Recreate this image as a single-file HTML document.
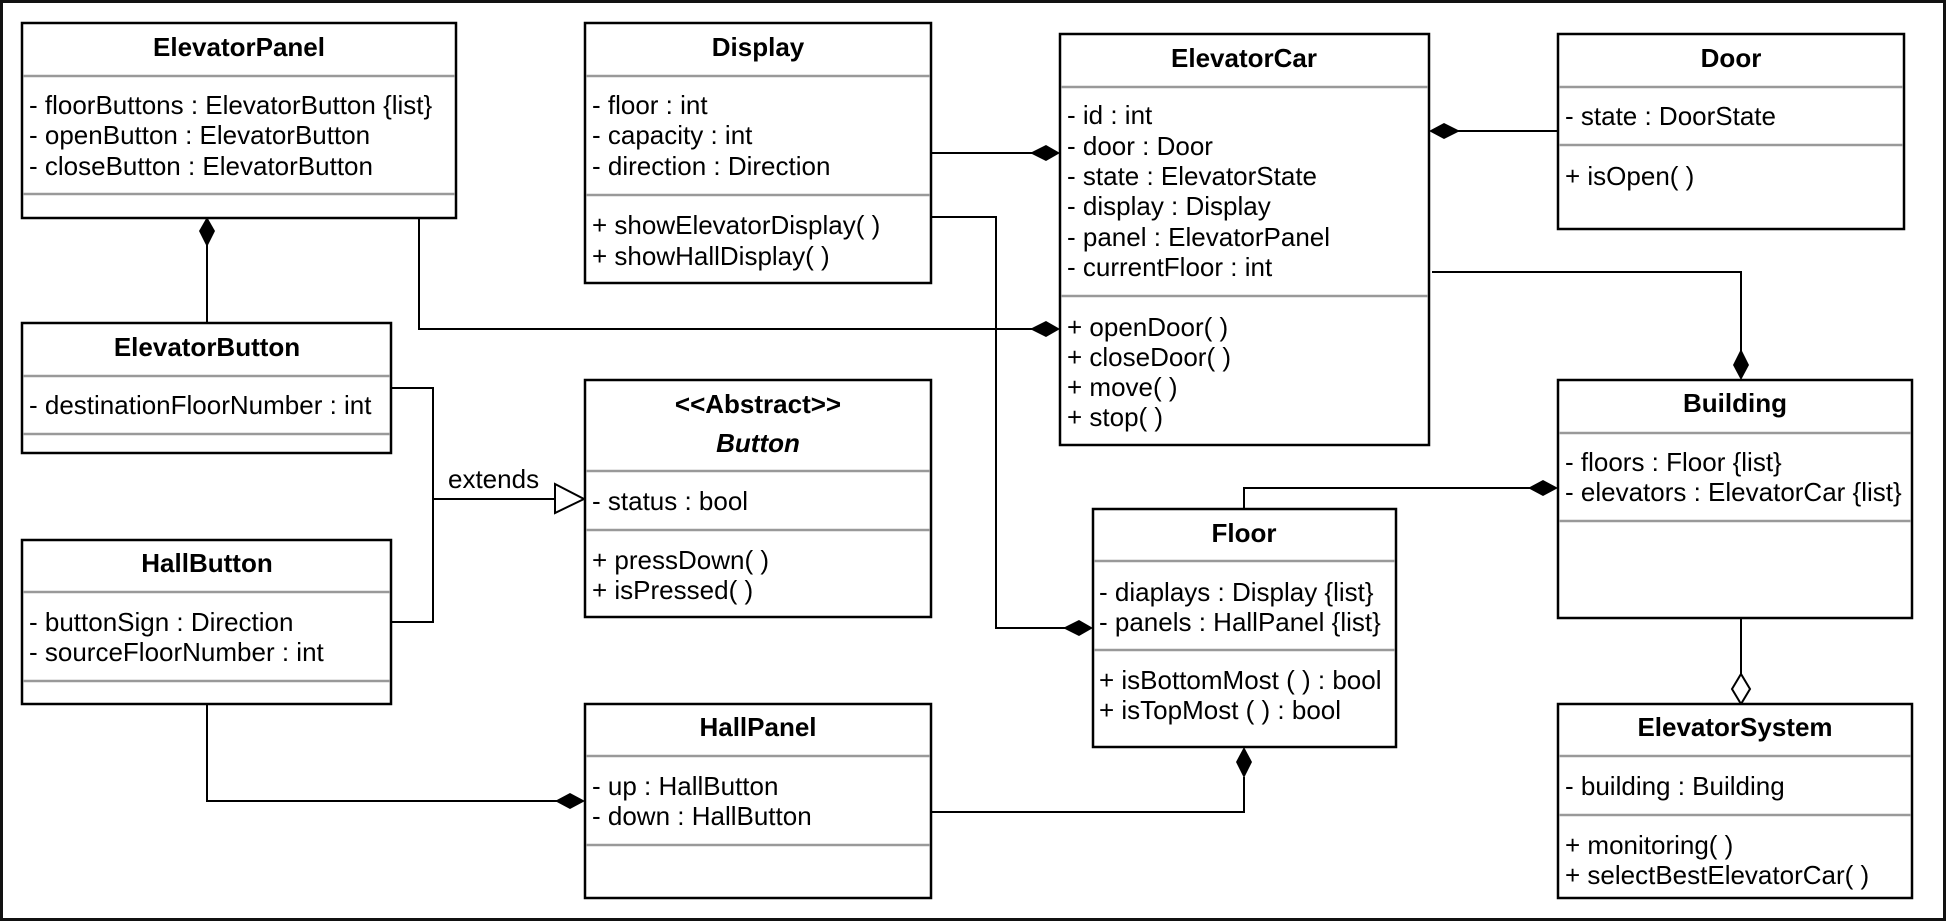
<!DOCTYPE html>
<html><head><meta charset="utf-8"><style>
html,body{margin:0;padding:0;background:#fff;}
svg{display:block;}
text{font-family:"Liberation Sans",Arial,sans-serif;font-size:26px;fill:#000;}
.t{font-weight:bold;text-anchor:middle;font-size:26px;}
.box{fill:#fff;stroke:#000;stroke-width:2.5;}
.div{stroke:#999;stroke-width:2.5;}
.ln{fill:none;stroke:#000;stroke-width:2;}
</style></head><body>
<svg width="1946" height="921" viewBox="0 0 1946 921" xmlns="http://www.w3.org/2000/svg">
<rect x="1.5" y="1.5" width="1943" height="918" fill="#fff" stroke="#111" stroke-width="3"/>

<!-- connectors -->
<polyline class="ln" points="207,323 207,245"/>
<polygon points="207,217 215,231 207,247 199,231" fill="#000"/>
<polyline class="ln" points="419,218 419,329 1032,329"/>
<polygon points="1060,329 1046,321 1030,329 1046,337" fill="#000"/>
<polyline class="ln" points="931,153 1032,153"/>
<polygon points="1060,153 1046,145 1030,153 1046,161" fill="#000"/>
<polyline class="ln" points="931,217 996,217 996,628 1065,628"/>
<polygon points="1093,628 1079,620 1063,628 1079,636" fill="#000"/>
<polyline class="ln" points="1558,131 1458,131"/>
<polygon points="1429,131 1444,123 1460,131 1444,139" fill="#000"/>
<polyline class="ln" points="1432,272 1741,272 1741,352"/>
<polygon points="1741,380 1733,365 1741,349 1749,365" fill="#000"/>
<polyline class="ln" points="1244,509 1244,488 1530,488"/>
<polygon points="1558,488 1543,480 1528,488 1543,496" fill="#000"/>
<polyline class="ln" points="1741,618 1741,674"/>
<polygon points="1741,704 1732,689 1741,674 1750,689" fill="#fff" stroke="#000" stroke-width="2"/>
<polyline class="ln" points="931,812 1244,812 1244,777"/>
<polygon points="1244,747 1252,762 1244,778 1236,762" fill="#000"/>
<polyline class="ln" points="207,704 207,801 557,801"/>
<polygon points="585,801 570,793 555,801 570,809" fill="#000"/>
<polyline class="ln" points="391,388 433,388 433,622 391,622"/>
<polyline class="ln" points="433,499 555,499"/>
<polygon points="555,484 584,499 555,513" fill="#fff" stroke="#000" stroke-width="2"/>
<text x="448" y="488" font-size="26">extends</text>

<!-- ElevatorPanel -->
<rect class="box" x="22" y="23" width="434" height="195"/>
<line class="div" x1="23" y1="76" x2="455" y2="76"/><line class="div" x1="23" y1="194" x2="455" y2="194"/>
<text class="t" x="239" y="56">ElevatorPanel</text>
<text x="29" y="114">- floorButtons : ElevatorButton {list}</text>
<text x="29" y="144">- openButton : ElevatorButton</text>
<text x="29" y="175">- closeButton : ElevatorButton</text>

<!-- ElevatorButton -->
<rect class="box" x="22" y="323" width="369" height="130"/>
<line class="div" x1="23" y1="376" x2="390" y2="376"/><line class="div" x1="23" y1="434" x2="390" y2="434"/>
<text class="t" x="207" y="356">ElevatorButton</text>
<text x="29" y="414">- destinationFloorNumber : int</text>

<!-- HallButton -->
<rect class="box" x="22" y="540" width="369" height="164"/>
<line class="div" x1="23" y1="592" x2="390" y2="592"/><line class="div" x1="23" y1="681" x2="390" y2="681"/>
<text class="t" x="207" y="572">HallButton</text>
<text x="29" y="631">- buttonSign : Direction</text>
<text x="29" y="661">- sourceFloorNumber : int</text>

<!-- Display -->
<rect class="box" x="585" y="23" width="346" height="260"/>
<line class="div" x1="586" y1="76" x2="930" y2="76"/><line class="div" x1="586" y1="195" x2="930" y2="195"/>
<text class="t" x="758" y="56">Display</text>
<text x="592" y="114">- floor : int</text>
<text x="592" y="144">- capacity : int</text>
<text x="592" y="175">- direction : Direction</text>
<text x="592" y="234">+ showElevatorDisplay( )</text>
<text x="592" y="265">+ showHallDisplay( )</text>

<!-- Button -->
<rect class="box" x="585" y="380" width="346" height="237"/>
<line class="div" x1="586" y1="471" x2="930" y2="471"/><line class="div" x1="586" y1="530" x2="930" y2="530"/>
<text class="t" x="758" y="413">&lt;&lt;Abstract&gt;&gt;</text>
<text class="t" x="758" y="452" font-style="italic">Button</text>
<text x="592" y="510">- status : bool</text>
<text x="592" y="569">+ pressDown( )</text>
<text x="592" y="599">+ isPressed( )</text>

<!-- HallPanel -->
<rect class="box" x="585" y="704" width="346" height="194"/>
<line class="div" x1="586" y1="756" x2="930" y2="756"/><line class="div" x1="586" y1="845" x2="930" y2="845"/>
<text class="t" x="758" y="736">HallPanel</text>
<text x="592" y="795">- up : HallButton</text>
<text x="592" y="825">- down : HallButton</text>

<!-- ElevatorCar -->
<rect class="box" x="1060" y="34" width="369" height="411"/>
<line class="div" x1="1061" y1="87" x2="1428" y2="87"/><line class="div" x1="1061" y1="296" x2="1428" y2="296"/>
<text class="t" x="1244" y="67">ElevatorCar</text>
<text x="1067" y="124">- id : int</text>
<text x="1067" y="155">- door : Door</text>
<text x="1067" y="185">- state : ElevatorState</text>
<text x="1067" y="215">- display : Display</text>
<text x="1067" y="246">- panel : ElevatorPanel</text>
<text x="1067" y="276">- currentFloor : int</text>
<text x="1067" y="336">+ openDoor( )</text>
<text x="1067" y="366">+ closeDoor( )</text>
<text x="1067" y="396">+ move( )</text>
<text x="1067" y="426">+ stop( )</text>

<!-- Door -->
<rect class="box" x="1558" y="34" width="346" height="195"/>
<line class="div" x1="1559" y1="87" x2="1903" y2="87"/><line class="div" x1="1559" y1="145" x2="1903" y2="145"/>
<text class="t" x="1731" y="67">Door</text>
<text x="1565" y="125">- state : DoorState</text>
<text x="1565" y="185">+ isOpen( )</text>

<!-- Building -->
<rect class="box" x="1558" y="380" width="354" height="238"/>
<line class="div" x1="1559" y1="433" x2="1911" y2="433"/><line class="div" x1="1559" y1="521" x2="1911" y2="521"/>
<text class="t" x="1735" y="412">Building</text>
<text x="1565" y="471">- floors : Floor {list}</text>
<text x="1565" y="501">- elevators : ElevatorCar {list}</text>

<!-- Floor -->
<rect class="box" x="1093" y="509" width="303" height="238"/>
<line class="div" x1="1094" y1="561" x2="1395" y2="561"/><line class="div" x1="1094" y1="650" x2="1395" y2="650"/>
<text class="t" x="1244" y="542">Floor</text>
<text x="1099" y="601">- diaplays : Display {list}</text>
<text x="1099" y="631">- panels : HallPanel {list}</text>
<text x="1099" y="689">+ isBottomMost ( ) : bool</text>
<text x="1099" y="719">+ isTopMost ( ) : bool</text>

<!-- ElevatorSystem -->
<rect class="box" x="1558" y="704" width="354" height="194"/>
<line class="div" x1="1559" y1="756" x2="1911" y2="756"/><line class="div" x1="1559" y1="815" x2="1911" y2="815"/>
<text class="t" x="1735" y="736">ElevatorSystem</text>
<text x="1565" y="795">- building : Building</text>
<text x="1565" y="854">+ monitoring( )</text>
<text x="1565" y="884">+ selectBestElevatorCar( )</text>
</svg>
</body></html>
